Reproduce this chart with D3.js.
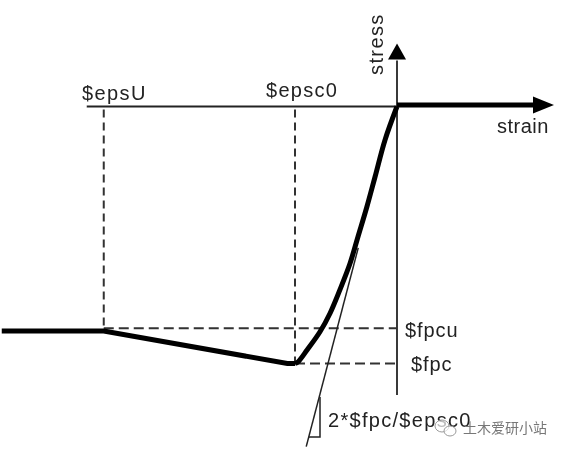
<!DOCTYPE html>
<html><head><meta charset="utf-8">
<script src="https://cdn.jsdelivr.net/npm/d3@7"></script>
<style>html,body{margin:0;padding:0;background:#fff}svg{display:block}text{font-family:"Liberation Sans",Arial,sans-serif;fill:#222}</style>
</head><body><svg id="c" width="564" height="453"></svg>
<script>
const epsU=-0.00575, epsc0=-0.002, fpc=-30, fpcu=-26;
const softeningStrain=[-0.00775,-0.00575,-0.00215,-0.002];
const softeningStress=[-26.2,-26.2,-30,-30];
const riseStrain=[-0.002,-0.00194,-0.00176,-0.00151,-0.00131,-0.00112,-0.00092,-0.000765,-0.00059,-0.00043,-0.000235,0];
const riseStress=[-30,-29.8,-28.4,-26.3,-24.1,-21.4,-18.3,-15.2,-11.7,-8.2,-3.9,0];
const tangentStrain=[-0.00076,-0.00178];
const tangentStress=[-16.5,-39.7];
const axisLabels=["stress","strain"];
const paramLabels=["$epsU","$epsc0","$fpcu","$fpc","2*$fpc/$epsc0"];
const watermark="土木爱研小站";

const x=d3.scaleLinear().domain([-0.002,0]).range([295,397]);
const y=d3.scaleLinear().domain([-30,0]).range([363.5,106.5]);
const svg=d3.select("#c");
svg.append("defs").append("filter").attr("id","b").attr("x","-5%").attr("y","-5%").attr("width","110%").attr("height","110%")
  .append("feGaussianBlur").attr("stdDeviation",0.45);
const g=svg.append("g").attr("filter","url(#b)");
const seg=(x1,y1,x2,y2,w,dash,col)=>g.append("line").attr("x1",x1).attr("y1",y1).attr("x2",x2).attr("y2",y2)
  .attr("stroke",col||"#222").attr("stroke-width",w).attr("stroke-dasharray",dash||null);

// thin axes
seg(x(epsU)-17,y(0),x(0),y(0),1.8);
seg(x(0),y(0)-46,x(0),395,1.8);
// dashed guides
seg(x(epsU),y(0)+3,x(epsU),y(fpcu),2,"8 5","#333");
seg(x(epsc0),y(0)+3,x(epsc0),y(fpc),2,"8 5","#333");
seg(x(epsU),y(fpcu)-1,x(0),y(fpcu)-1,2,"10 5","#333");
seg(x(epsc0),y(fpc),x(0)+3,y(fpc),2,"10 5","#333");
// initial tangent
const lineFn=d3.line().x(d=>x(d[0])).y(d=>y(d[1]));
g.append("path").attr("d",lineFn(tangentStrain.map((s,i)=>[s,tangentStress[i]]))).attr("fill","none").attr("stroke","#222").attr("stroke-width",1.5);
// slope triangle
const yb=437, yt=397, xr=320;
const xl=d3.scaleLinear().domain([y(tangentStress[0]),y(tangentStress[1])]).range([x(tangentStrain[0]),x(tangentStrain[1])])(yb);
g.append("path").attr("d",`M${xr},${yt}L${xr},${yb}L${xl},${yb}`).attr("fill","none").attr("stroke","#222").attr("stroke-width",1.5);
// thick curve
g.append("path").attr("d",lineFn(softeningStrain.map((s,i)=>[s,softeningStress[i]]))).attr("fill","none").attr("stroke","#000").attr("stroke-width",5);
g.append("path").attr("d",lineFn.curve(d3.curveCatmullRom)(riseStrain.map((s,i)=>[s,riseStress[i]]))).attr("fill","none").attr("stroke","#000").attr("stroke-width",5);
lineFn.curve(d3.curveLinear);
// thick strain axis
seg(x(0),y(0)-1.5,x(0)+140,y(0)-1.5,5,null,"#000");
// arrow heads
g.append("path").attr("d",`M${x(0)},${y(0)-63}L${x(0)+9},${y(0)-47}L${x(0)-9},${y(0)-47}Z`).attr("fill","#000");
g.append("path").attr("d",`M${x(0)+157},${y(0)-1.5}L${x(0)+136},${y(0)-10}L${x(0)+136},${y(0)+7}Z`).attr("fill","#000");
// text
const txt=(s,tx,ty,ls)=>g.append("text").attr("x",tx).attr("y",ty).attr("font-size",20).attr("letter-spacing",ls).text(s);
txt(paramLabels[0],82,100,1.4);
txt(paramLabels[1],266,97,1.3);
txt(paramLabels[2],405,337,0.9);
txt(paramLabels[3],411,371,0.9);
txt(paramLabels[4],328,427,1.3);
txt(axisLabels[1],497,133,0.5);
g.append("text").attr("transform","translate(383,75) rotate(-90)").attr("font-size",20).attr("letter-spacing",1.4).text(axisLabels[0]);
// watermark
const wm=svg.append("g");
wm.append("ellipse").attr("cx",442).attr("cy",426).attr("rx",7).attr("ry",6).attr("fill","#fff").attr("fill-opacity",0.7).attr("stroke","#999").attr("stroke-width",1);
wm.append("ellipse").attr("cx",450).attr("cy",431).attr("rx",6).attr("ry",5).attr("fill","#fff").attr("fill-opacity",0.7).attr("stroke","#999").attr("stroke-width",1);
wm.append("text").attr("x",463).attr("y",433).attr("font-size",14).style("font-family",'"Noto Sans CJK SC"').style("fill","#777").text(watermark);
</script></body></html>
